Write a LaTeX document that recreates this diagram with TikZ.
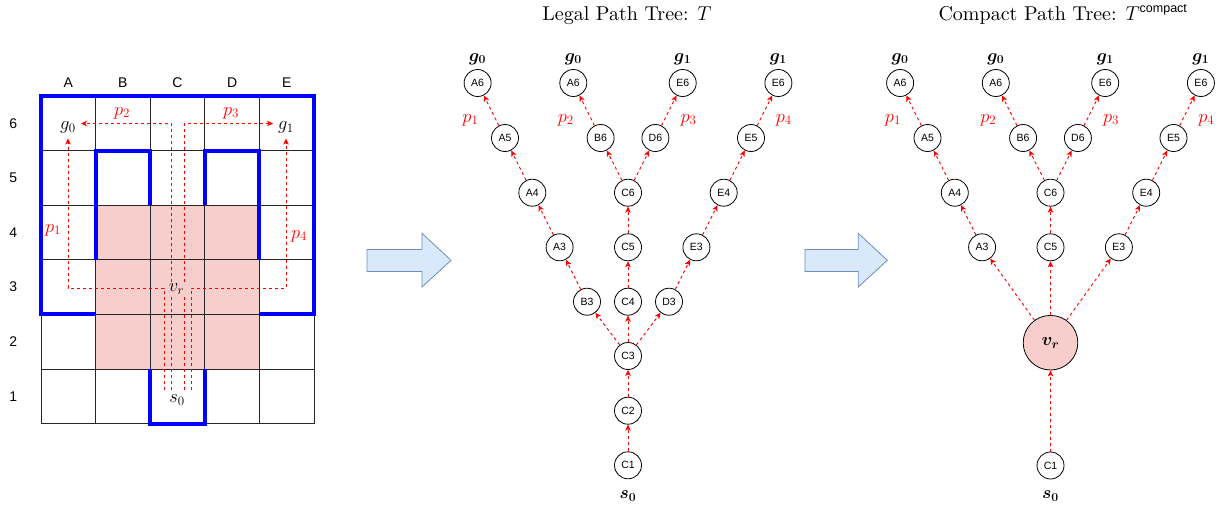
\RequirePackage{fix-cm}
\documentclass[tikz,border=0pt]{standalone}
\usepackage{fontspec}
\newfontfamily\helv{Liberation Sans}
\newfontfamily\titlerm{lmroman10-regular}[Extension=.otf]
\usetikzlibrary{arrows.meta}

\definecolor{wallblue}{RGB}{0,0,255}
\definecolor{cellpink}{RGB}{248,206,204}
\definecolor{arrowfill}{RGB}{218,232,252}
\definecolor{arrowline}{RGB}{108,142,191}
\definecolor{pathred}{RGB}{255,0,0}

\tikzset{
  gridline/.style={draw=black!85, line width=0.7pt},
  wall/.style={draw=wallblue, line width=4pt},
  headtip/.style={-{Stealth[length=6pt,width=5.5pt,inset=1.5pt]}},
  route/.style={draw=pathred, line width=0.9pt, dash pattern=on 3pt off 3pt, headtip},
  edgelink/.style={route},
  cellname/.style={font=\helv\fontsize{14}{16}\selectfont},
  cellstate/.style={circle, draw=black, line width=0.8pt, minimum size=27pt,
    inner sep=0pt, fill=white, font=\helv\fontsize{10.5}{12}\selectfont},
  junction/.style={circle, draw=black, line width=0.8pt, minimum size=54.6pt,
    inner sep=0pt, fill=cellpink, font=\fontsize{18}{21}\selectfont\boldmath},
  mathlbl/.style={inner sep=1pt, font=\fontsize{18.5}{22}\selectfont},
  boldlbl/.style={inner sep=1pt, font=\fontsize{17.5}{21}\selectfont\boldmath},
  pathlbl/.style={mathlbl, text=pathred},
  heading/.style={font=\titlerm\fontsize{20}{24}\selectfont, anchor=base},
  bigarrow/.style={fill=arrowfill, draw=arrowline, line width=0.8pt},
}

% upper part shared by both path trees (columns A/C/E, rows 3..6)
\newcommand\treecrown{%
  \node[cellstate] (A6a) at (477.6,83)  {A6};
  \node[cellstate] (A6b) at (573.3,83)  {A6};
  \node[cellstate] (E6a) at (682.7,83)  {E6};
  \node[cellstate] (E6b) at (778.4,83)  {E6};
  \node[cellstate] (A5)  at (505.0,138) {A5};
  \node[cellstate] (B6)  at (600.6,138) {B6};
  \node[cellstate] (D6)  at (655.4,138) {D6};
  \node[cellstate] (E5)  at (751.0,138) {E5};
  \node[cellstate] (A4)  at (532.3,192.7) {A4};
  \node[cellstate] (C6)  at (628.0,192.7) {C6};
  \node[cellstate] (E4)  at (723.7,192.7) {E4};
  \node[cellstate] (A3)  at (559.6,247.3) {A3};
  \node[cellstate] (C5)  at (628.0,247.3) {C5};
  \node[cellstate] (E3)  at (696.4,247.3) {E3};
  \node[boldlbl] (ga) at (477.6,59) {$g_0$};
  \node[boldlbl] (gb) at (573.3,59) {$g_0$};
  \node[boldlbl] (gc) at (682.7,59) {$g_1$};
  \node[boldlbl] (gd) at (778.4,59) {$g_1$};
  \node[pathlbl] (pa) at (470.4,120) {$p_1$};
  \node[pathlbl] (pb) at (565.8,120) {$p_2$};
  \node[pathlbl] (pc) at (688.5,120) {$p_3$};
  \node[pathlbl] (pd) at (783.8,120) {$p_4$};
  \draw[edgelink] (A3) -- (A4);
  \draw[edgelink] (A4) -- (A5);
  \draw[edgelink] (A5) -- (A6a);
  \draw[edgelink] (C5) -- (C6);
  \draw[edgelink] (C6) -- (B6);
  \draw[edgelink] (C6) -- (D6);
  \draw[edgelink] (B6) -- (A6b);
  \draw[edgelink] (D6) -- (E6a);
  \draw[edgelink] (E3) -- (E4);
  \draw[edgelink] (E4) -- (E5);
  \draw[edgelink] (E5) -- (E6b);
}

\begin{document}
\begin{tikzpicture}[x=1pt,y=-1pt]
\useasboundingbox (0,0) rectangle (1225,506);

% ---------------- grid world ----------------
\begin{scope}[shift={(41,96)}, x=54.6pt, y=-54.6pt]
  \fill[cellpink] (1,2) rectangle (4,5);
  \foreach \i in {0,...,5}
    \draw[gridline] (\i,0) -- (\i,6);
  \foreach \j in {0,...,6}
    \draw[gridline] (0,\j) -- (5,\j);
  \foreach \c [count=\i] in {A,B,C,D,E}
    \node[cellname] (col\c) at (\i-0.5,-0.24) {\c};
  \foreach \r in {1,...,6}
    \node[cellname] (row\r) at (-0.51,6.5-\r) {\r};
  % walls
  \draw[wall] (1,4) -- (0,4) -- (0,0) -- (5,0) -- (5,4) -- (4,4);
  \draw[wall] (1,3) -- (1,1) -- (2,1) -- (2,2);
  \draw[wall] (3,2) -- (3,1) -- (4,1) -- (4,3);
  \draw[wall] (2,5) -- (2,6) -- (3,6) -- (3,5);
\end{scope}

\node[mathlbl] (g0) at (68,127.5) {$g_0$};
\node[mathlbl] (g1) at (286,127.5) {$g_1$};
\node[pathlbl] (lp1) at (53,230) {$p_1$};
\node[pathlbl] (lp2) at (122,113) {$p_2$};
\node[pathlbl] (lp3) at (231,113) {$p_3$};
\node[pathlbl] (lp4) at (299,236) {$p_4$};
\node[mathlbl] (s0) at (177,400) {$s_0$};

\coordinate (r1) at (164,390);
\coordinate (r2) at (171,390);
\coordinate (r3) at (184,390);
\coordinate (r4) at (191,390);
\draw[route, shorten >=4pt] (r1) -- ++(0,-102) -| (g0.south);
\draw[route, shorten >=4pt] (r4) -- ++(0,-102) -| (g1.south);
\draw[route, shorten >=4pt] (r2) |- ([yshift=4pt]g0.east);
\draw[route, shorten >=4pt] (r3) |- ([yshift=4pt]g1.west);
\node[mathlbl, fill=cellpink, inner sep=0.5pt] (vrgrid) at (176.5,289) {$v_r$};

% ---------------- transition arrows ----------------
\draw[bigarrow] (367,249.5) -- (422,249.5) -- (422,233.3) -- (451,260.3)
  -- (422,287) -- (422,271.5) -- (367,271.5) -- cycle;
\draw[bigarrow] (805,249.5) -- (858.3,249.5) -- (858.3,233.3) -- (887.3,260.3)
  -- (858.3,287) -- (858.3,271.5) -- (805,271.5) -- cycle;

% ---------------- legal path tree ----------------
\node[heading] (title1) at (627,20) {Legal Path Tree: $T$};
\treecrown
\node[cellstate] (B3) at (587.0,301.7) {B3};
\node[cellstate] (C4) at (628.0,301.7) {C4};
\node[cellstate] (D3) at (669.0,301.7) {D3};
\node[cellstate] (C3) at (628.0,356.0) {C3};
\node[cellstate] (C2) at (628.0,410.7) {C2};
\node[cellstate] (C1) at (628.0,465.3) {C1};
\node[boldlbl] (s0a) at (628,496) {$s_0$};
\draw[edgelink] (C1) -- (C2);
\draw[edgelink] (C2) -- (C3);
\draw[edgelink] (C3) -- (B3);
\draw[edgelink] (C3) -- (C4);
\draw[edgelink] (C3) -- (D3);
\draw[edgelink] (B3) -- (A3);
\draw[edgelink] (C4) -- (C5);
\draw[edgelink] (D3) -- (E3);

% ---------------- compact path tree ----------------
\node[heading] (title2) at (1063,20)
  {Compact Path Tree: $T^{\mbox{\helv\fontsize{12.5}{14}\selectfont compact}}$};
\begin{scope}[xshift=422.5pt, name prefix=k-]
  \treecrown
  \node[junction] (vr) at (628,342.7) {$v_r$};
  \node[cellstate] (C1) at (628,465.5) {C1};
  \node[boldlbl] (s0b) at (628,496) {$s_0$};
  \draw[edgelink] (C1) -- (vr);
  \draw[edgelink] (vr) -- (A3);
  \draw[edgelink] (vr) -- (C5);
  \draw[edgelink] (vr) -- (E3);
\end{scope}
\end{tikzpicture}
\end{document}
